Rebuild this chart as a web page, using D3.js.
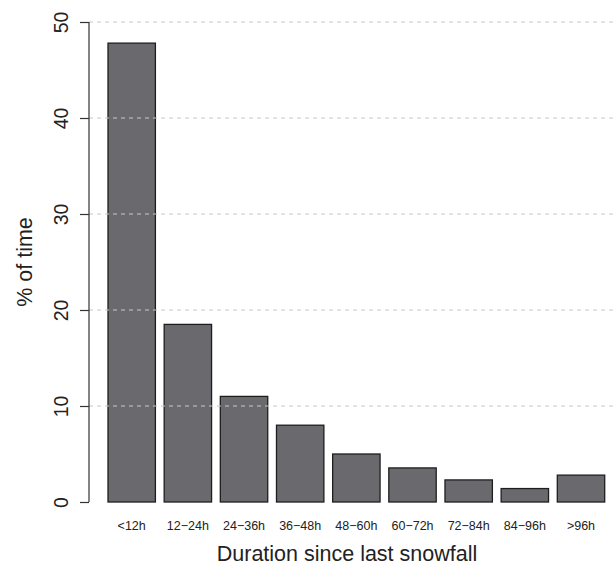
<!DOCTYPE html>
<html><head><meta charset="utf-8">
<script src="https://cdn.jsdelivr.net/npm/d3@7"></script>
<style>html,body{margin:0;padding:0;background:#fff;}svg{display:block;font-family:"Liberation Sans",Arial,sans-serif;}</style>
</head><body>
<svg id="chart" width="616" height="567"></svg>
<script>
const categories = ["<12h","12\u221224h","24\u221236h","36\u221248h","48\u221260h","60\u221272h","72\u221284h","84\u221296h",">96h"];
const values = [47.8, 18.5, 11.0, 8.0, 5.0, 3.55, 2.3, 1.4, 2.8];
const yTicks = [0, 10, 20, 30, 40, 50];
const gridTicks = [10, 20, 30, 40, 50];

const svg = d3.select("#chart");
const x = d3.scaleBand().domain(categories).range([108, 604.7]).paddingInner(0.156).paddingOuter(0);
const y = d3.scaleLinear().domain([0, 50]).range([502, 22]);

// bars
svg.append("g").selectAll("rect").data(values).join("rect")
  .attr("x", (d,i) => x(categories[i]))
  .attr("y", d => y(d))
  .attr("width", x.bandwidth())
  .attr("height", d => y(0) - y(d))
  .attr("fill", "#6a6a6e")
  .attr("stroke", "#1e1e1e")
  .attr("stroke-width", 1.3);

// gridlines (on top of bars)
svg.append("g").selectAll("line").data(gridTicks).join("line")
  .attr("x1", 89).attr("x2", 616)
  .attr("y1", d => y(d)).attr("y2", d => y(d))
  .attr("stroke", "#c8c8c8").attr("stroke-width", 1)
  .attr("stroke-dasharray", "4,4");

// y axis
const yAxis = d3.axisLeft(y).tickValues(yTicks).tickSize(9).tickFormat(d3.format("d"));
const ga = svg.append("g").attr("transform", "translate(89,0)").call(yAxis);
ga.select(".domain").attr("d", `M0,${y(50)}V${y(0)}`).attr("stroke", "#333").attr("stroke-width", 1.2);
ga.selectAll(".tick line").attr("stroke", "#333").attr("stroke-width", 1.2);
ga.selectAll(".tick text").remove();
ga.selectAll(".tick").append("text")
  .attr("transform", "translate(-21,0) rotate(-90)")
  .attr("text-anchor", "middle")
  .attr("fill", "#222")
  .style("font-size", "19.5px")
  .style("font-family", "'Liberation Sans', Arial, sans-serif")
  .text(d => d);

// x category labels
const xAxis = d3.axisBottom(x).tickSize(0).tickPadding(0);
const gx = svg.append("g").attr("transform", "translate(0,502)").call(xAxis);
gx.select(".domain").remove();
gx.selectAll(".tick text")
  .attr("y", 28).attr("dy", null)
  .attr("fill", "#222")
  .style("font-size", "12.5px")
  .style("font-family", "'Liberation Sans', Arial, sans-serif");

// axis titles
svg.append("text")
  .attr("x", 347).attr("y", 561)
  .attr("text-anchor", "middle")
  .attr("fill", "#222")
  .style("font-size", "21.5px")
  .text("Duration since last snowfall");

svg.append("text")
  .attr("transform", `translate(32,${(y(0)+y(50))/2}) rotate(-90)`)
  .attr("text-anchor", "middle")
  .attr("fill", "#222")
  .style("font-size", "21.5px")
  .text("% of time");
</script>
</body></html>
